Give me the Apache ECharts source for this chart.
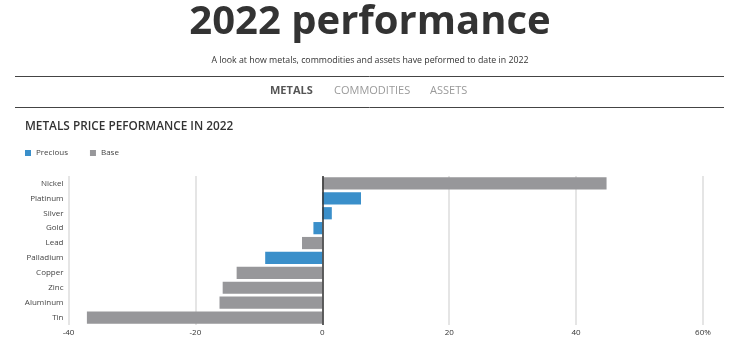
<!DOCTYPE html>
<html>
<head>
<meta charset="utf-8">
<title>2022 performance</title>
<script src="https://cdn.jsdelivr.net/npm/echarts@6/dist/echarts.min.js"></script>
<style>
  html, body { margin: 0; padding: 0; background: #fff; }
  #chart { width: 729px; height: 345px; }
</style>
</head>
<body>
<div id="chart"></div>
<script>
// Metals listed top to bottom
const metals = ['Nickel', 'Platinum', 'Silver', 'Gold', 'Lead', 'Palladium', 'Copper', 'Zinc', 'Aluminum', 'Tin'];
// Year-to-date change, % (null where the metal belongs to the other group)
const precious = [null, 6.1, 1.5, -1.4, null, -9.0, null, null, null, null];
const base = [44.8, null, null, null, -3.2, null, -13.5, -15.7, -16.2, -37.1];
const xTicks = [-40, -20, 0, 20, 40, 60];
const tabs = ['METALS', 'COMMODITIES', 'ASSETS'];

const chart = echarts.init(document.getElementById('chart'), null, { renderer: 'canvas' });
const font = '"Open Sans", "Noto Sans", sans-serif';
const centerX = 370;

chart.setOption({
  animation: false,
  textStyle: { fontFamily: font },
  graphic: [
    { type: 'text', x: centerX, y: 23, style: { text: '2022 performance', fill: '#333', font: 'bold 40px ' + font, textAlign: 'center', textVerticalAlign: 'middle' } },
    { type: 'text', x: centerX, y: 60, style: { text: 'A look at how metals, commodities and assets have peformed to date in 2022', fill: '#333', font: '8.8px ' + font, textAlign: 'center', textVerticalAlign: 'middle' } },
    { type: 'line', shape: { x1: 15, y1: 76.5, x2: 724, y2: 76.5 }, style: { stroke: '#444', lineWidth: 1 } },
    { type: 'line', shape: { x1: 15, y1: 107.5, x2: 724, y2: 107.5 }, style: { stroke: '#444', lineWidth: 1 } },
    { type: 'text', x: 270, y: 91, style: { text: tabs[0], fill: '#555', font: 'bold 11px ' + font, textVerticalAlign: 'middle' } },
    { type: 'text', x: 334, y: 91, style: { text: tabs[1], fill: '#9a9a9a', font: '11px ' + font, textVerticalAlign: 'middle' } },
    { type: 'text', x: 430, y: 91, style: { text: tabs[2], fill: '#9a9a9a', font: '11px ' + font, textVerticalAlign: 'middle' } },
    { type: 'text', x: 25, y: 127, style: { text: 'METALS PRICE PEFORMANCE IN 2022', fill: '#333', font: '600 11.8px ' + font, textVerticalAlign: 'middle' } }
  ],
  legend: {
    left: 20, top: 144,
    icon: 'rect', itemWidth: 6, itemHeight: 6, itemGap: 22,
    textStyle: { fontSize: 8, color: '#444', fontFamily: font },
    data: ['Precious', 'Base']
  },
  grid: { left: 68.5, right: 26, top: 176, bottom: 20, containLabel: false },
  xAxis: {
    type: 'value', min: -40, max: 60, interval: 20,
    axisLine: { show: false }, axisTick: { show: false },
    axisLabel: {
      fontSize: 8, color: '#333', margin: 4,
      formatter: v => (v === xTicks[xTicks.length - 1] ? v + '%' : String(v))
    },
    splitLine: { show: true, lineStyle: { color: '#dcdcdc', width: 1.5 } }
  },
  yAxis: {
    type: 'category', data: metals, inverse: true,
    axisLine: { show: false }, axisTick: { show: false },
    axisLabel: { fontSize: 8, color: '#444', margin: 5 }
  },
  series: [
    {
      name: 'Precious', type: 'bar', stack: 'all', data: precious,
      barCategoryGap: '18%',
      itemStyle: { color: '#3a8fca' },
      markLine: {
        silent: true, symbol: 'none',
        label: { show: false },
        lineStyle: { color: '#333', width: 1.5, type: 'solid' },
        data: [{ xAxis: 0 }]
      }
    },
    {
      name: 'Base', type: 'bar', stack: 'all', data: base,
      barCategoryGap: '18%',
      itemStyle: { color: '#97979a' }
    }
  ]
});
</script>
</body>
</html>
